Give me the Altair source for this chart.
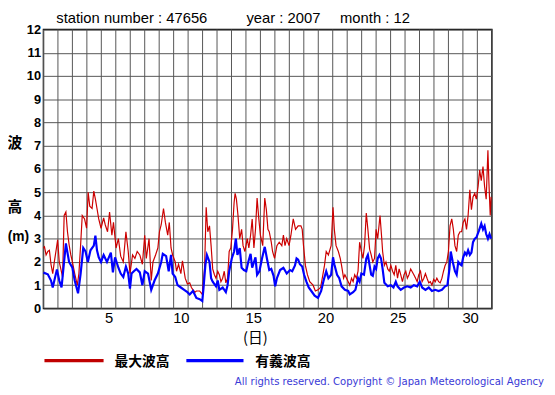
import altair as alt
import pandas as pd

# ---- data: significant wave height (blue) ----
sig_t = [0.0, 0.30, 0.52, 0.64, 0.93, 1.09, 1.25, 1.55, 1.77, 2.0, 2.16, 2.39, 2.57, 2.75, 2.91, 3.07,
         3.25, 3.48, 3.59, 3.70, 3.82, 3.98, 4.16, 4.39, 4.66, 4.80, 4.95, 5.18, 5.34, 5.52, 5.70, 5.86,
         5.98, 6.09, 6.25, 6.43, 6.66, 6.84, 7.0, 7.23, 7.45, 7.68, 7.91, 8.14, 8.25, 8.48, 8.66, 8.82,
         8.93, 9.11, 9.27, 9.5, 9.73, 9.95, 10.11, 10.34, 10.57, 10.8, 10.98, 11.07, 11.2, 11.3, 11.48,
         11.59, 11.7, 11.93, 12.05, 12.16, 12.39, 12.61, 12.73, 12.84, 13.02, 13.18, 13.3, 13.41, 13.57,
         13.7, 13.86, 14.02, 14.16, 14.32, 14.43, 14.66, 14.77, 14.93, 15.11, 15.3, 15.45, 15.61, 15.75,
         15.91, 16.02, 16.14, 16.36, 16.59, 16.82, 17.05, 17.2, 17.39, 17.5, 17.61, 17.73, 17.89, 18.02,
         18.18, 18.34, 18.52, 18.75, 18.98, 19.2, 19.39, 19.55, 19.7, 19.89, 20.02, 20.11, 20.3, 20.45,
         20.61, 20.84, 21.07, 21.18, 21.41, 21.57, 21.75, 21.86, 21.98, 22.16, 22.32, 22.43, 22.55, 22.66,
         22.77, 22.89, 23.0, 23.11, 23.23, 23.34, 23.45, 23.57, 23.8, 24.02, 24.2, 24.36, 24.48, 24.7,
         24.93, 25.16, 25.39, 25.61, 25.84, 26.02, 26.18, 26.41, 26.64, 26.86, 27.09, 27.32, 27.55, 27.77,
         27.93, 28.07, 28.16, 28.3, 28.45, 28.57, 28.68, 28.8, 28.91, 29.02, 29.14, 29.25, 29.36, 29.48,
         29.59, 29.7, 29.82, 29.93, 30.11, 30.27, 30.39, 30.5, 30.61, 30.73, 30.84, 30.95]
sig_v = [1.54, 1.47, 1.2, 0.9, 1.68, 1.2, 0.9, 2.8, 2.0, 1.75, 1.2, 0.65, 1.5, 2.6, 2.45, 2.0,
         2.5, 2.7, 3.13, 2.5, 2.2, 2.0, 2.3, 2.0, 2.4, 1.55, 2.2, 1.75, 1.5, 1.35, 1.8, 1.5,
         0.85, 1.5, 1.6, 1.7, 1.55, 1.0, 1.6, 1.5, 0.8, 1.2, 1.5, 2.0, 2.35, 2.25, 1.6, 2.3,
         1.5, 1.35, 1.0, 0.9, 0.8, 0.7, 0.6, 0.75, 0.45, 0.4, 0.32, 0.9, 1.9, 2.3, 2.0,
         1.3, 1.15, 0.95, 1.2, 0.8, 0.9, 0.7, 1.0, 1.6, 2.15, 2.45, 3.0, 2.3, 2.6,
         1.75, 1.65, 1.6, 2.0, 2.35, 1.75, 2.2, 1.45, 1.6, 2.15, 2.65, 2.15, 1.65, 1.7,
         1.4, 0.95, 1.3, 1.65, 1.75, 1.5, 1.65, 1.6, 1.85, 2.15, 2.1, 1.9, 1.8, 1.45,
         1.15, 0.9, 0.75, 0.55, 0.45, 0.75, 1.25, 1.6, 1.3, 1.45, 2.2, 1.9, 1.45, 1.3,
         0.95, 0.8, 0.75, 0.6, 0.7, 0.8, 1.3, 1.15, 1.5, 1.45, 2.15, 2.3, 1.85, 1.45,
         1.4, 1.8, 1.7, 2.15, 2.3, 2.15, 1.7, 1.1, 0.95, 1.0, 0.9, 1.15, 0.95, 0.8,
         0.9, 0.95, 0.9, 1.0, 0.95, 1.15, 0.9, 0.8, 0.9, 0.75, 0.8, 0.75, 0.8, 0.95,
         1.0, 1.7, 2.45, 2.0, 1.6, 1.45, 2.0, 1.9, 1.85, 2.2, 2.4, 2.3, 2.5, 2.3,
         2.4, 2.85, 3.0, 3.05, 3.35, 3.65, 3.4, 3.55, 3.2, 3.0, 3.2, 3.0]

# ---- data: maximum wave height (red) ----
max_t = [0.0, 0.07, 0.18, 0.30, 0.41, 0.52, 0.64, 0.75, 0.86, 0.98, 1.09, 1.2, 1.32, 1.43, 1.55, 1.66,
         1.77, 1.89, 2.0, 2.16, 2.34, 2.45, 2.57, 2.68, 2.84, 2.98, 3.09, 3.2, 3.36, 3.48, 3.59, 3.70,
         3.82, 3.98, 4.16, 4.27, 4.43, 4.57, 4.73, 4.84, 5.02, 5.18, 5.34, 5.52, 5.70, 5.86, 5.98, 6.16,
         6.32, 6.48, 6.66, 6.84, 7.0, 7.11, 7.3, 7.45, 7.57, 7.75, 7.91, 8.02, 8.14, 8.3, 8.43, 8.59,
         8.70, 8.82, 8.93, 9.11, 9.2, 9.34, 9.5, 9.61, 9.8, 9.95, 10.11, 10.23, 10.34, 10.48, 10.57, 10.8,
         10.98, 11.14, 11.25, 11.36, 11.48, 11.59, 11.7, 11.82, 11.93, 12.05, 12.16, 12.27, 12.39, 12.5,
         12.61, 12.73, 12.84, 12.95, 13.07, 13.18, 13.25, 13.34, 13.45, 13.57, 13.7, 13.8, 13.93, 14.09,
         14.2, 14.32, 14.43, 14.55, 14.66, 14.77, 14.89, 15.0, 15.16, 15.3, 15.41, 15.52, 15.61, 15.75,
         15.84, 15.98, 16.14, 16.3, 16.48, 16.59, 16.7, 16.82, 16.98, 17.11, 17.27, 17.43, 17.61, 17.8,
         17.89, 17.98, 18.11, 18.25, 18.41, 18.64, 18.8, 18.98, 19.16, 19.32, 19.43, 19.55, 19.7, 19.89,
         20.02, 20.11, 20.23, 20.39, 20.52, 20.61, 20.75, 20.84, 21.07, 21.18, 21.3, 21.41, 21.52, 21.64,
         21.75, 21.86, 21.98, 22.09, 22.2, 22.32, 22.43, 22.55, 22.66, 22.77, 22.89, 23.0, 23.11, 23.27,
         23.39, 23.45, 23.57, 23.68, 23.8, 23.91, 24.02, 24.14, 24.25, 24.36, 24.48, 24.59, 24.7, 24.82,
         24.93, 25.05, 25.16, 25.27, 25.39, 25.61, 25.73, 25.84, 25.95, 26.07, 26.18, 26.3, 26.41, 26.52,
         26.64, 26.75, 26.86, 26.98, 27.09, 27.2, 27.32, 27.43, 27.55, 27.66, 27.77, 27.89, 28.0, 28.11,
         28.23, 28.34, 28.45, 28.57, 28.68, 28.8, 28.91, 29.02, 29.14, 29.25, 29.36, 29.48, 29.59, 29.7,
         29.82, 29.93, 30.05, 30.16, 30.27, 30.39, 30.5, 30.61, 30.73, 30.8, 30.89, 30.95]
max_v = [2.6, 2.65, 2.3, 2.45, 2.5, 1.9, 1.5, 2.0, 2.45, 2.95, 2.0, 1.7, 1.35, 4.0, 4.15, 3.3,
         2.75, 2.3, 2.0, 1.5, 1.0, 1.5, 2.75, 4.0, 3.85, 3.45, 5.0, 4.4, 4.3, 5.05, 4.7, 4.3,
         3.85, 3.45, 3.9, 3.6, 3.3, 4.15, 3.15, 3.7, 2.6, 3.0, 2.25, 2.0, 3.3, 2.45, 1.5, 2.3,
         2.15, 2.45, 2.3, 1.9, 3.15, 2.15, 3.0, 1.2, 2.0, 2.3, 2.6, 3.3, 3.6, 4.3, 3.7, 3.15,
         3.7, 2.6, 2.3, 2.0, 1.6, 1.9, 1.5, 2.05, 1.3, 1.05, 1.1, 0.9, 0.8, 0.7, 0.75, 0.75,
         0.6, 1.75, 4.35, 3.3, 3.55, 2.7, 1.7, 1.45, 1.3, 1.6, 1.45, 1.15, 1.3, 1.6,
         1.1, 1.3, 2.45, 2.6, 3.4, 4.55, 4.95, 4.7, 4.0, 3.0, 3.4, 2.7, 2.45, 3.0,
         2.6, 3.15, 3.85, 2.6, 3.4, 4.75, 3.85, 3.15, 2.7, 4.75, 4.25, 3.4, 3.3, 2.85,
         2.45, 2.15, 2.7, 2.85, 2.7, 3.15, 2.7, 3.0, 2.7, 3.15, 3.85, 3.4, 3.55, 3.55,
         3.4, 2.7, 1.85, 1.45, 1.15, 1.0, 0.75, 0.8, 0.9, 1.45, 1.85, 2.45, 2.3, 2.7,
         4.35, 3.4, 2.7, 2.45, 2.15, 1.85, 1.3, 1.45, 1.15, 1.0, 1.3, 1.15, 1.45, 1.3,
         1.6, 2.85, 2.45, 2.15, 2.7, 4.1, 3.4, 2.55, 2.3, 2.0, 2.15, 3.4, 3.0, 4.0,
         3.0, 2.45, 1.85, 2.0, 1.7, 1.6, 1.85, 1.6, 1.45, 1.85, 1.3, 1.7, 1.45, 1.15,
         1.45, 1.6, 1.3, 1.45, 1.7, 1.45, 1.3, 1.15, 1.45, 1.6, 1.15, 1.3, 1.5, 1.3,
         1.1, 1.15, 1.0, 1.25, 1.15, 1.3, 1.15, 1.1, 1.3, 1.6, 1.85, 2.0, 2.45, 3.55,
         3.85, 3.4, 2.7, 2.45, 3.15, 3.3, 3.3, 3.7, 3.85, 3.4, 4.0, 5.1, 4.25, 4.8,
         4.95, 4.7, 5.25, 5.95, 5.5, 6.1, 5.25, 4.7, 6.8, 5.4, 4.0, 4.8]

# axis labels
day_label_pos = [4.5, 9.5, 14.5, 19.5, 24.5, 29.5]   # middle of day 5, 10, ...
day_lines = list(range(0, 32))
y_ticks = list(range(0, 13))

W, H = 455, 283
xscale = alt.Scale(domain=[0, 31], nice=False, zero=False)
yscale = alt.Scale(domain=[0, 12], nice=False, zero=True)

max_df = pd.DataFrame({"t": max_t, "v": max_v})
sig_df = pd.DataFrame({"t": sig_t, "v": sig_v})
grid_df = pd.DataFrame({"d": day_lines})

yaxis = alt.Axis(values=y_ticks, grid=True, gridColor="#555555", gridWidth=1, gridOpacity=1,
                 ticks=False, tickSize=0, domain=False, labelFont="Liberation Sans",
                 labelFontWeight="bold", labelFontSize=13, labelColor="black", labelPadding=3, title=None)
xaxis = alt.Axis(values=day_label_pos, labelExpr="datum.value + 0.5", grid=False, ticks=False, tickSize=0,
                 domain=False, labelFont="Liberation Sans", labelFontSize=15, labelColor="black",
                 labelPadding=2, title=None)

vgrid = alt.Chart(grid_df).mark_rule(color="#555555", strokeWidth=1).encode(
    x=alt.X("d:Q", scale=xscale, axis=xaxis)
)
red = alt.Chart(max_df).mark_line(color="#CC0000", strokeWidth=1.2).encode(
    x=alt.X("t:Q", scale=xscale, axis=xaxis),
    y=alt.Y("v:Q", scale=yscale, axis=yaxis),
)
blue = alt.Chart(sig_df).mark_line(color="#0000FF", strokeWidth=2.2).encode(
    x=alt.X("t:Q", scale=xscale, axis=xaxis),
    y=alt.Y("v:Q", scale=yscale, axis=yaxis),
)

one = pd.DataFrame({"a": [0]})


def txt(s, x, y, size, weight="normal", align="left", font="Liberation Sans", color="black"):
    return alt.Chart(one).mark_text(text=s, fontSize=size, fontWeight=weight, align=align,
                                    baseline="middle", font=font, color=color).encode(
        x=alt.value(x), y=alt.value(y))


def seg(x1, x2, y, color):
    return alt.Chart(one).mark_rule(color=color, strokeWidth=3.5).encode(
        x=alt.value(x1), x2=alt.value(x2), y=alt.value(y))


cjk = "Noto Sans CJK JP"
annotations = [
    txt("station number : 47656", 13, -12, 15),
    txt("year : 2007", 206, -12, 15),
    txt("month : 12", 301, -12, 15),
    txt("波", -29, 115, 15, "bold", "center", cjk),
    txt("高", -29, 180, 15, "bold", "center", cjk),
    txt("(m)", -25.5, 211, 14, "bold", "center", "Liberation Sans"),
    txt("(日)", 215, 313, 15, "normal", "center", cjk),
    seg(1, 61, 336, "#C00000"),
    txt("最大波高", 72, 337, 14, "bold", "left", cjk),
    seg(145, 203, 336, "#0000FF"),
    txt("有義波高", 215, 337, 14, "bold", "left", cjk),
    txt("All rights reserved. Copyright © Japan Meteorological Agency", 508, 358, 10.2,
        "normal", "right", "DejaVu Sans", "#3a3ad6"),
]

chart = alt.layer(vgrid, red, blue, *annotations).properties(
    width=W, height=H,
    autosize=alt.AutoSizeParams(type="none"),
    padding={"left": 36, "top": 19, "right": 56, "bottom": 85},
).configure_view(stroke="black", strokeWidth=1.5)

chart.save("out.html", embed_options={"renderer": "svg", "actions": False})
